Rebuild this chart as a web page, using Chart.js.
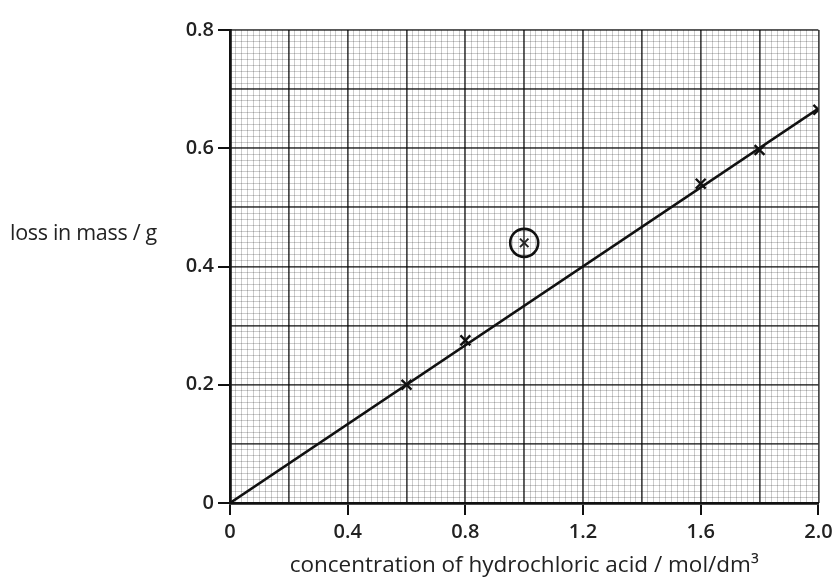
<!DOCTYPE html>
<html>
<head>
<meta charset="utf-8">
<script src="https://cdn.jsdelivr.net/npm/chart.js@4"></script>
<style>
  html, body { margin: 0; padding: 0; background: #fff; }
  #wrap { position: relative; width: 835px; height: 579px; }
  #yTitle {
    position: absolute; left: 10px; top: 217px;
    font: 21.5px "Open Sans", sans-serif; color: #222; letter-spacing: -0.3px;
  }
</style>
</head>
<body>
<div id="wrap">
  <canvas id="massChart" width="835" height="579"></canvas>
  <div id="yTitle">loss in mass / g</div>
</div>
<script>
// measured points (the 1.0 result is the circled anomaly)
var concentration = [0.6, 0.8, 1.6, 1.8, 2.0];
var massLoss = [0.2, 0.275, 0.54, 0.597, 0.665];
var anomalyX = [1.0];
var anomalyY = [0.44];

// line of best fit through the origin
var fitX = [0, 2.0];
var fitY = [0, 0.667];

var xTicks = [0, 0.4, 0.8, 1.2, 1.6, 2.0];
var yTicks = [0, 0.2, 0.4, 0.6, 0.8];

function pairs(xs, ys) {
    return xs.map(function(x, i) { return { x: x, y: ys[i] }; });
}

function fmt(v) {
    return v === 0 ? '0' : v.toFixed(1);
}

// grid-only scales for the graph paper
function paperX(step, color, width) {
    return {
        type: 'linear', position: 'bottom', min: 0, max: 2,
        ticks: { display: false, stepSize: step },
        grid: { color: color, lineWidth: width, drawTicks: false },
        border: { display: false },
        afterFit: function(s) { s.height = 0; }
    };
}
function paperY(step, color, width) {
    return {
        type: 'linear', position: 'left', min: 0, max: 0.8,
        ticks: { display: false, stepSize: step },
        grid: { color: color, lineWidth: width, drawTicks: false },
        border: { display: false },
        afterFit: function(s) { s.width = 0; }
    };
}

var tickFont = { family: '"Open Sans", sans-serif', size: 20, weight: '600' };

var ctx = document.getElementById('massChart').getContext('2d');
new Chart(ctx, {
    type: 'scatter',
    data: {
        datasets: [{
            type: 'line',
            label: 'best fit',
            data: pairs(fitX, fitY),
            borderColor: '#111',
            borderWidth: 2.6,
            pointRadius: 0,
            fill: false
        }, {
            label: 'results',
            data: pairs(concentration, massLoss),
            pointStyle: 'crossRot',
            pointRadius: 7,
            borderColor: '#111',
            borderWidth: 2.4
        }, {
            label: 'anomaly',
            data: pairs(anomalyX, anomalyY),
            pointStyle: 'crossRot',
            pointRadius: 6,
            borderColor: '#222',
            borderWidth: 2
        }, {
            label: 'anomaly ring',
            data: pairs(anomalyX, anomalyY),
            pointStyle: 'circle',
            pointRadius: 14,
            borderColor: '#111',
            borderWidth: 2.6,
            backgroundColor: 'rgba(0,0,0,0)'
        }]
    },
    options: {
        responsive: false,
        animation: false,
        layout: { padding: { top: 30, right: 15, left: 0, bottom: 0 } },
        plugins: { legend: { display: false }, tooltip: { enabled: false } },
        scales: {
            xMinor: paperX(0.02, 'rgba(0,0,0,0.2)', 1),
            xMajor: paperX(0.2, 'rgba(0,0,0,0.65)', 1.8),
            yMinor: paperY(0.01, 'rgba(0,0,0,0.2)', 1),
            yMajor: paperY(0.1, 'rgba(0,0,0,0.65)', 1.8),
            x: {
                type: 'linear', min: 0, max: 2,
                afterBuildTicks: function(s) {
                    s.ticks = xTicks.map(function(v) { return { value: v }; });
                },
                ticks: {
                    color: '#222', font: tickFont, padding: 5,
                    callback: function(v) { return fmt(v); }
                },
                grid: { drawOnChartArea: false, tickLength: 12, color: '#111', lineWidth: 2 },
                border: { color: '#111', width: 2.8 },
                title: {
                    display: true,
                    text: 'concentration of hydrochloric acid / mol/dm³',
                    color: '#222',
                    font: { family: '"Open Sans", sans-serif', size: 22.5 },
                    padding: { top: 5, bottom: 0 }
                },
                afterFit: function(s) {
                    s.height = 76;
                    s.paddingLeft = 0;
                    s.paddingRight = 0;
                }
            },
            y: {
                type: 'linear', min: 0, max: 0.8,
                afterBuildTicks: function(s) {
                    s.ticks = yTicks.map(function(v) { return { value: v }; });
                },
                ticks: {
                    color: '#222', font: tickFont, padding: 4,
                    callback: function(v) { return fmt(v); }
                },
                grid: { drawOnChartArea: false, tickLength: 12, color: '#111', lineWidth: 2 },
                border: { color: '#111', width: 2.8 },
                afterFit: function(s) { s.width = 230; }
            }
        }
    }
});
</script>
</body>
</html>
